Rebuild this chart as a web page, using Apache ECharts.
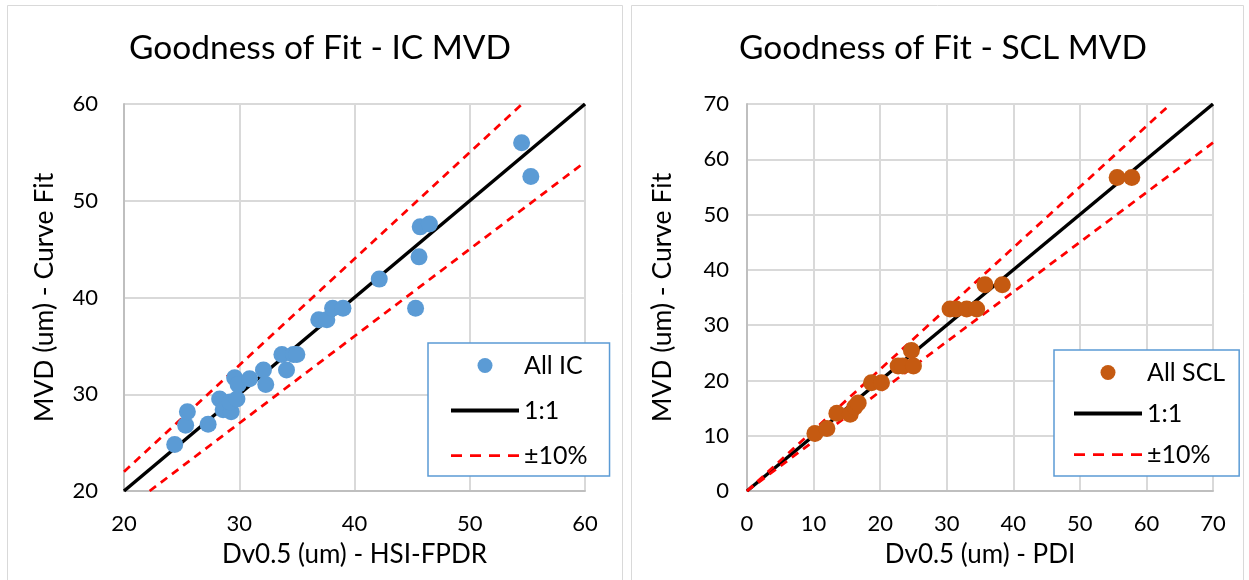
<!DOCTYPE html>
<html>
<head>
<meta charset="utf-8">
<script src="https://cdn.jsdelivr.net/npm/echarts@6/dist/echarts.min.js"></script>
<style>
html,body{margin:0;padding:0;background:#fff;}
#c{width:1249px;height:580px;}
</style>
</head>
<body>
<div id="c"></div>
<script>
// ---- Data ----
const titles = ['Goodness of Fit - IC MVD', 'Goodness of Fit - SCL MVD'];
const xNames = ['Dv0.5 (um) - HSI-FPDR', 'Dv0.5 (um) - PDI'];
const yName = 'MVD (um) - Curve Fit';
const icName = 'All IC';
const sclName = 'All SCL';
const oneToOneName = '1:1';
const bandName = '\u00b110%';

// IC: [Dv0.5 HSI-FPDR, MVD curve fit]
const icX = [24.4, 25.35, 25.5, 27.3, 28.3, 28.6, 29.3, 29.2, 29.8, 29.6, 29.9, 30.9, 32.1, 32.3, 34.1, 33.7, 34.7, 35.0, 36.9, 37.6, 38.1, 39.0, 42.15, 45.3, 45.6, 45.7, 46.5, 54.5, 55.3];
const icY = [24.8, 26.8, 28.2, 26.9, 29.5, 28.4, 28.2, 29.2, 29.5, 31.7, 31.0, 31.6, 32.5, 31.0, 32.5, 34.1, 34.1, 34.1, 37.7, 37.7, 38.9, 38.9, 41.9, 38.9, 44.2, 47.3, 47.6, 56.0, 52.5];

// SCL: [Dv0.5 PDI, MVD curve fit]
const sclX = [10.2, 12.0, 13.5, 15.5, 16.2, 16.7, 18.7, 20.2, 22.7, 23.4, 24.7, 25.0, 30.5, 31.4, 33.0, 34.5, 35.75, 38.35, 55.6, 57.8];
const sclY = [10.4, 11.3, 14.05, 13.9, 15.2, 15.9, 19.6, 19.6, 22.6, 22.6, 25.4, 22.6, 32.9, 32.9, 32.9, 32.9, 37.3, 37.3, 56.7, 56.7];

// Axis ranges
const icRange = [20, 60];
const sclRange = [0, 70];
const tickStep = 10;
const bandPct = 0.10;

// ---- Build ----
const zip = (a, b) => a.map((v, i) => [v, b[i]]);
function oneToOne(r) { return [[r[0], r[0]], [r[1], r[1]]]; }
function upperBand(r) {
  const lo = r[0];
  const hiX = r[1] / (1 + bandPct);
  return [[lo, lo * (1 + bandPct)], [hiX, hiX * (1 + bandPct)]];
}
function lowerBand(r) {
  const loX = r[0] / (1 - bandPct);
  return [[loX, loX * (1 - bandPct)], [r[1], r[1] * (1 - bandPct)]];
}

const FONT = 'Lato';
const grids = [
  { left: 124, right: 1249 - 585, top: 104, bottom: 580 - 491 },
  { left: 747, right: 1249 - 1213, top: 104, bottom: 580 - 491 }
];

function xAxis(i, r) {
  return {
    gridIndex: i, type: 'value', min: r[0], max: r[1], interval: tickStep,
    name: xNames[i], nameLocation: 'middle', nameGap: 51,
    nameTextStyle: { fontFamily: FONT, fontSize: 26, color: '#000' },
    axisLine: { show: true, lineStyle: { color: '#bfbfbf', width: 2 } },
    axisTick: { show: false },
    axisLabel: { fontFamily: FONT, fontSize: 22, color: '#000', margin: 22 },
    splitLine: { show: true, lineStyle: { color: '#d9d9d9', width: 2 } }
  };
}
function yAxis(i, r, margin, gap) {
  return {
    gridIndex: i, type: 'value', min: r[0], max: r[1], interval: tickStep,
    name: yName, nameLocation: 'middle', nameGap: gap,
    nameTextStyle: { fontFamily: FONT, fontSize: 26.5, color: '#000' },
    axisLine: { show: true, lineStyle: { color: '#bfbfbf', width: 2 } },
    axisTick: { show: false },
    axisLabel: { fontFamily: FONT, fontSize: 22, color: '#000', margin: margin },
    splitLine: { show: true, lineStyle: { color: '#d9d9d9', width: 2 } }
  };
}

const blackLine = { color: '#000', width: 3.5, type: 'solid' };
const redLine = { color: '#ff0000', width: 2.75, type: [8, 6] };
const hiddenSymbol = { color: 'rgba(0,0,0,0)', borderColor: 'rgba(0,0,0,0)', borderWidth: 0, opacity: 0 };

function lineSeries(name, i, data, style) {
  return {
    name: name, type: 'line', xAxisIndex: i, yAxisIndex: i, data: data,
    symbol: 'none', showSymbol: false, silent: true, z: 2,
    lineStyle: style, itemStyle: { color: style.color }
  };
}
function legendData(scatterName) {
  return [
    scatterName,
    { name: oneToOneName, itemStyle: hiddenSymbol, lineStyle: { width: 4, color: '#000', type: 'solid' } },
    { name: bandName, itemStyle: hiddenSymbol, lineStyle: { width: 2.75, color: '#ff0000', type: [11, 8] } }
  ];
}

const titleStyle = { fontFamily: FONT, fontSize: 33.5, fontWeight: 'normal', color: '#000' };
const legendText = { fontFamily: FONT, fontSize: 25, color: '#000' };

const option = {
  animation: false,
  backgroundColor: '#fff',
  title: [
    { text: titles[0], left: 315, top: 26, textAlign: 'center', textStyle: titleStyle },
    { text: titles[1], left: 938, top: 26, textAlign: 'center', textStyle: titleStyle }
  ],
  graphic: [
    { type: 'rect', shape: { x: 7.5, y: 5.5, width: 615, height: 580 }, style: { fill: 'none', stroke: '#d9d9d9', lineWidth: 1 }, z: -1 },
    { type: 'rect', shape: { x: 631.5, y: 5.5, width: 612, height: 580 }, style: { fill: 'none', stroke: '#d9d9d9', lineWidth: 1 }, z: -1 }
  ],
  grid: grids,
  xAxis: [xAxis(0, icRange), xAxis(1, sclRange)],
  yAxis: [yAxis(0, icRange, 26, 66), yAxis(1, sclRange, 18, 71)],
  legend: [
    {
      data: legendData(icName),
      orient: 'vertical', left: 428, top: 343,
      itemWidth: 68, itemHeight: 15, itemGap: 20,
      padding: [10, 22, 8, 21],
      borderColor: '#5b9bd5', borderWidth: 1.5, backgroundColor: '#fff',
      textStyle: legendText,
      selectedMode: false
    },
    {
      data: legendData(sclName),
      orient: 'vertical', left: 1054, top: 350,
      itemWidth: 68, itemHeight: 15, itemGap: 16,
      padding: [10, 14, 9, 18],
      borderColor: '#5b9bd5', borderWidth: 1.5, backgroundColor: '#fff',
      textStyle: legendText,
      selectedMode: false
    }
  ],
  series: [
    { name: icName, type: 'scatter', xAxisIndex: 0, yAxisIndex: 0, data: zip(icX, icY),
      symbol: 'circle', symbolSize: 17, itemStyle: { color: '#5b9bd5', opacity: 1 }, z: 5 },
    lineSeries(oneToOneName, 0, oneToOne(icRange), blackLine),
    lineSeries(bandName, 0, upperBand(icRange), redLine),
    lineSeries(bandName, 0, lowerBand(icRange), redLine),
    { name: sclName, type: 'scatter', xAxisIndex: 1, yAxisIndex: 1, data: zip(sclX, sclY),
      symbol: 'circle', symbolSize: 17, itemStyle: { color: '#c55a11', opacity: 1 }, z: 5 },
    lineSeries(oneToOneName, 1, oneToOne(sclRange), blackLine),
    lineSeries(bandName, 1, upperBand(sclRange), redLine),
    lineSeries(bandName, 1, lowerBand(sclRange), redLine)
  ]
};

const chart = echarts.init(document.getElementById('c'), null, { renderer: 'canvas' });
chart.setOption(option);
</script>
</body>
</html>
